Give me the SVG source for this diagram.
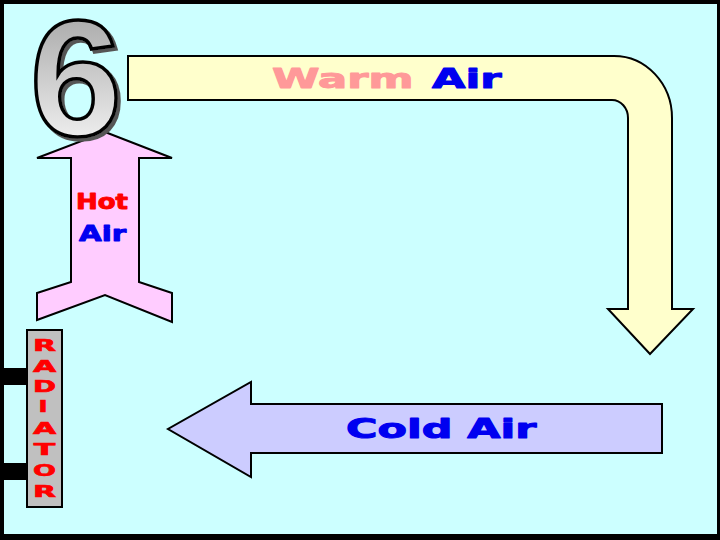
<svg xmlns="http://www.w3.org/2000/svg" width="720" height="540" viewBox="0 0 720 540">
<style>
.lbl{font-family:"DejaVu Sans","Liberation Sans",sans-serif;font-weight:bold;stroke-width:1;stroke-linejoin:round}
.shape{stroke:#000;stroke-width:2;stroke-linejoin:miter}
.red{fill:#FF0000;stroke:#FF0000}
.blue{fill:#0000F0;stroke:#0000F0}
.pink{fill:#FF9999;stroke:#FF9999}
.rad{font-family:"DejaVu Sans","Liberation Sans",sans-serif;font-weight:bold;font-size:15px;fill:#FF0000;stroke:#FF0000;stroke-width:0.6;text-anchor:middle}
</style>
<defs>
<linearGradient id="g6" x1="0" y1="0" x2="0" y2="1">
<stop offset="0" stop-color="#9A9A9A"/>
<stop offset="1" stop-color="#FFFFFF"/>
</linearGradient>
<filter id="shadow" x="-10%" y="-10%" width="130%" height="130%">
<feDropShadow dx="3" dy="3" stdDeviation="0" flood-color="#555555" flood-opacity="1"/>
</filter>
</defs>
<rect x="0" y="0" width="720" height="540" fill="#000"/>
<rect x="4" y="4" width="713" height="530" fill="#CCFFFF"/>

<g id="connectors">
<g id="warm-air">
<path class="shape" fill="#FFFFCC" d="M128,56 H614 A58,62 0 0 1 672,118 V309 H693 L650,354 L608,309 H628 V118 A16,18 0 0 0 612,100 H128 Z"/>
<text class="lbl pink" font-size="27" transform="translate(272,88) scale(1.6,1)">Warm</text>
<text class="lbl blue" font-size="27" transform="translate(432,88) scale(1.6,1)">Air</text>
</g>
<g id="cold-air">
<polygon class="shape" fill="#CCCCFF" points="662,404 251,404 251,382 168,429 251,477 251,453 662,453"/>
<text class="lbl blue" font-size="26" transform="translate(346,438) scale(1.65,1)">Cold Air</text>
</g>
<g id="hot-air">
<polygon class="shape" fill="#FFCCFF" points="105,132 172,158 139,158 139,282 172,293 172,322 105,295 37,320 37,293 71,282 71,158 37,158"/>
<text class="lbl red" font-size="22" transform="translate(76,209) scale(1.18,1)">Hot</text>
<text class="lbl blue" font-size="22" transform="translate(79,241) scale(1.33,1)">Air</text>
</g>
</g>

<g id="step-number">
<text x="76" y="135" font-family="'Liberation Sans',Arial,sans-serif" font-weight="bold" font-size="166" text-anchor="middle" fill="url(#g6)" stroke="#000" stroke-width="3.5" filter="url(#shadow)">6</text>
</g>

<g id="radiator">
<rect x="0" y="368" width="28" height="17" fill="#000"/>
<rect x="0" y="463" width="28" height="17" fill="#000"/>
<rect x="27" y="330" width="35" height="177" fill="#C0C0C0" stroke="#000" stroke-width="2"/>
<text class="rad" transform="translate(44.5,351) scale(2,1)">R</text>
<text class="rad" transform="translate(44.5,372) scale(2,1)">A</text>
<text class="rad" transform="translate(44.5,392) scale(1.85,1)">D</text>
<text class="rad" transform="translate(43,412) scale(1.6,1)">I</text>
<text class="rad" transform="translate(44.5,434) scale(2,1)">A</text>
<text class="rad" transform="translate(44.5,455) scale(2.1,1)">T</text>
<text class="rad" transform="translate(44.5,476) scale(1.8,1)">O</text>
<text class="rad" transform="translate(44.5,497) scale(2,1)">R</text>
</g>
</svg>
